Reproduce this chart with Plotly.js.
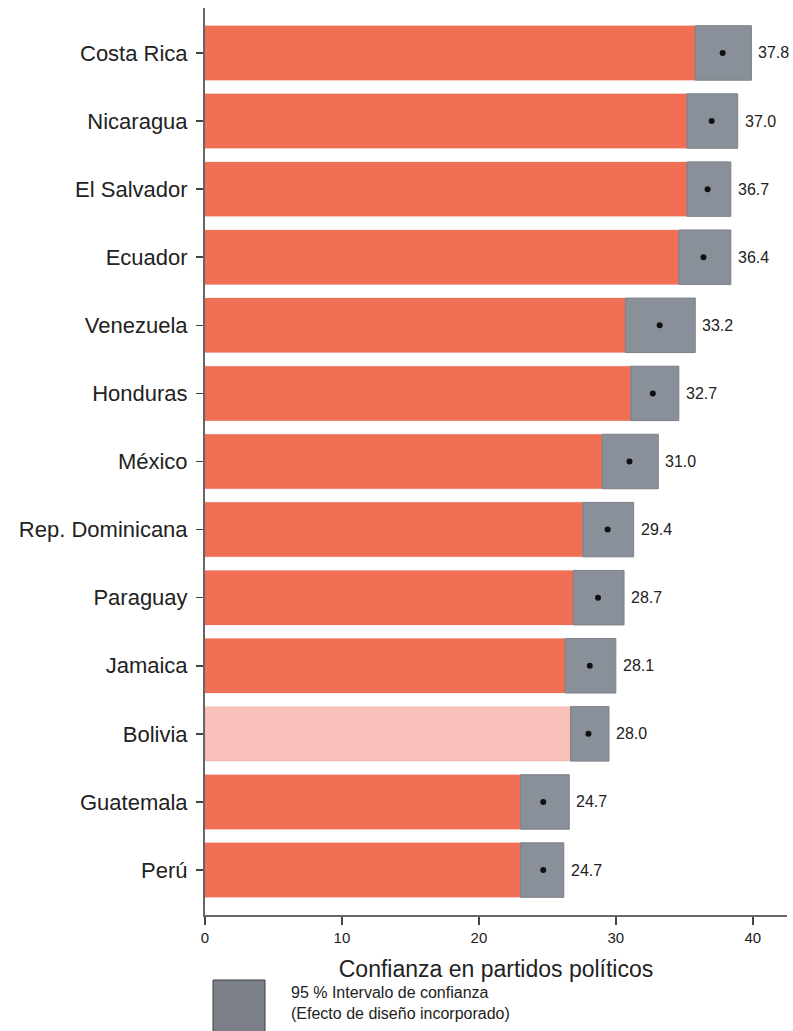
<!DOCTYPE html>
<html>
<head>
<meta charset="utf-8">
<script src="https://cdn.plot.ly/plotly-3.0.1.min.js"></script>
<style>html,body{margin:0;padding:0;background:#fff;}#chart{width:793px;height:1031px;}</style>
</head>
<body>
<div id="chart"></div>
<script>
var countries = ["Costa Rica","Nicaragua","El Salvador","Ecuador","Venezuela","Honduras","México","Rep. Dominicana","Paraguay","Jamaica","Bolivia","Guatemala","Perú"];
var means = [37.8, 37.0, 36.7, 36.4, 33.2, 32.7, 31.0, 29.4, 28.7, 28.1, 28.0, 24.7, 24.7];
var lowerCI = [35.8, 35.2, 35.2, 34.6, 30.7, 31.1, 29.0, 27.6, 26.9, 26.3, 26.7, 23.05, 23.05];
var upperCI = [39.9, 38.9, 38.4, 38.4, 35.8, 34.6, 33.1, 31.3, 30.6, 30.0, 29.5, 26.6, 26.2];
var highlighted = ["Bolivia"];
var axisTitle = "Confianza en partidos políticos";
var legendLines = ["95 % Intervalo de confianza", "(Efecto de diseño incorporado)"];

var orange = "#F16F55", orangeLight = "#F8C1B9", gray = "#8A9099";
var barColors = countries.map(function(c){ return highlighted.indexOf(c) >= 0 ? orangeLight : orange; });
var ciWidth = upperCI.map(function(u,i){ return u - lowerCI[i]; });
var labels = means.map(function(m){ return m.toFixed(1); });

var traces = [
  {type:"bar", orientation:"h", y:countries, x:lowerCI, base:0, width:0.8,
   marker:{color:barColors, line:{color:"rgba(200,90,70,0.35)", width:0.5}}, hoverinfo:"skip", showlegend:false},
  {type:"bar", orientation:"h", y:countries, x:ciWidth, base:lowerCI, width:0.8,
   marker:{color:gray, line:{color:"#7B8089", width:1}}, hoverinfo:"skip", showlegend:false},
  {type:"scatter", mode:"markers", y:countries, x:means,
   marker:{color:"#111", size:6}, hoverinfo:"skip", showlegend:false}
];

var valueAnnotations = countries.map(function(c,i){
  return {x:upperCI[i], y:c, xref:"x", yref:"y", text:labels[i], showarrow:false,
          xanchor:"left", yanchor:"middle", xshift:5,
          font:{family:"Liberation Sans, Arial, sans-serif", size:16, color:"#222"}};
});

var layout = {
  width:793, height:1031,
  margin:{l:205, r:6, t:8, b:116},
  paper_bgcolor:"#fff", plot_bgcolor:"#fff",
  barmode:"overlay",
  font:{family:"Liberation Sans, Arial, sans-serif", color:"#222"},
  xaxis:{range:[0,42.5], tickvals:[0,10,20,30,40], ticks:"outside", ticklen:8, tickwidth:1.5, tickcolor:"#444",
         showline:true, linecolor:"#666", linewidth:2, showgrid:false, zeroline:false,
         tickfont:{size:15, color:"#222"},
         title:{text:axisTitle, font:{size:23, color:"#222"}, standoff:16}},
  yaxis:{type:"category", categoryorder:"array", categoryarray:countries, range:[12.66,-0.66],
         ticks:"outside", ticklen:7, tickwidth:1.5, tickcolor:"#444", ticklabelstandoff:4,
         showline:true, linecolor:"#666", linewidth:2, showgrid:false, zeroline:false,
         tickfont:{size:22, color:"#222"}},
  shapes:[
    {type:"rect", xref:"paper", yref:"paper", x0:(213-205)/582, x1:(265-205)/582, y0:-(1040-923)/907, y1:-(988-923)/907,
     fillcolor:"#7A7F88", line:{color:"#3c3f44", width:1}}
  ],
  annotations:valueAnnotations.concat([
    {xref:"paper", yref:"paper", x:(289-205)/582, y:-(990-923)/907, xanchor:"left", yanchor:"top", align:"left",
     showarrow:false, text:legendLines.join("<br>"), font:{size:16, color:"#222"}}
  ])
};

Plotly.newPlot("chart", traces, layout, {displayModeBar:false, staticPlot:true});
</script>
</body>
</html>
